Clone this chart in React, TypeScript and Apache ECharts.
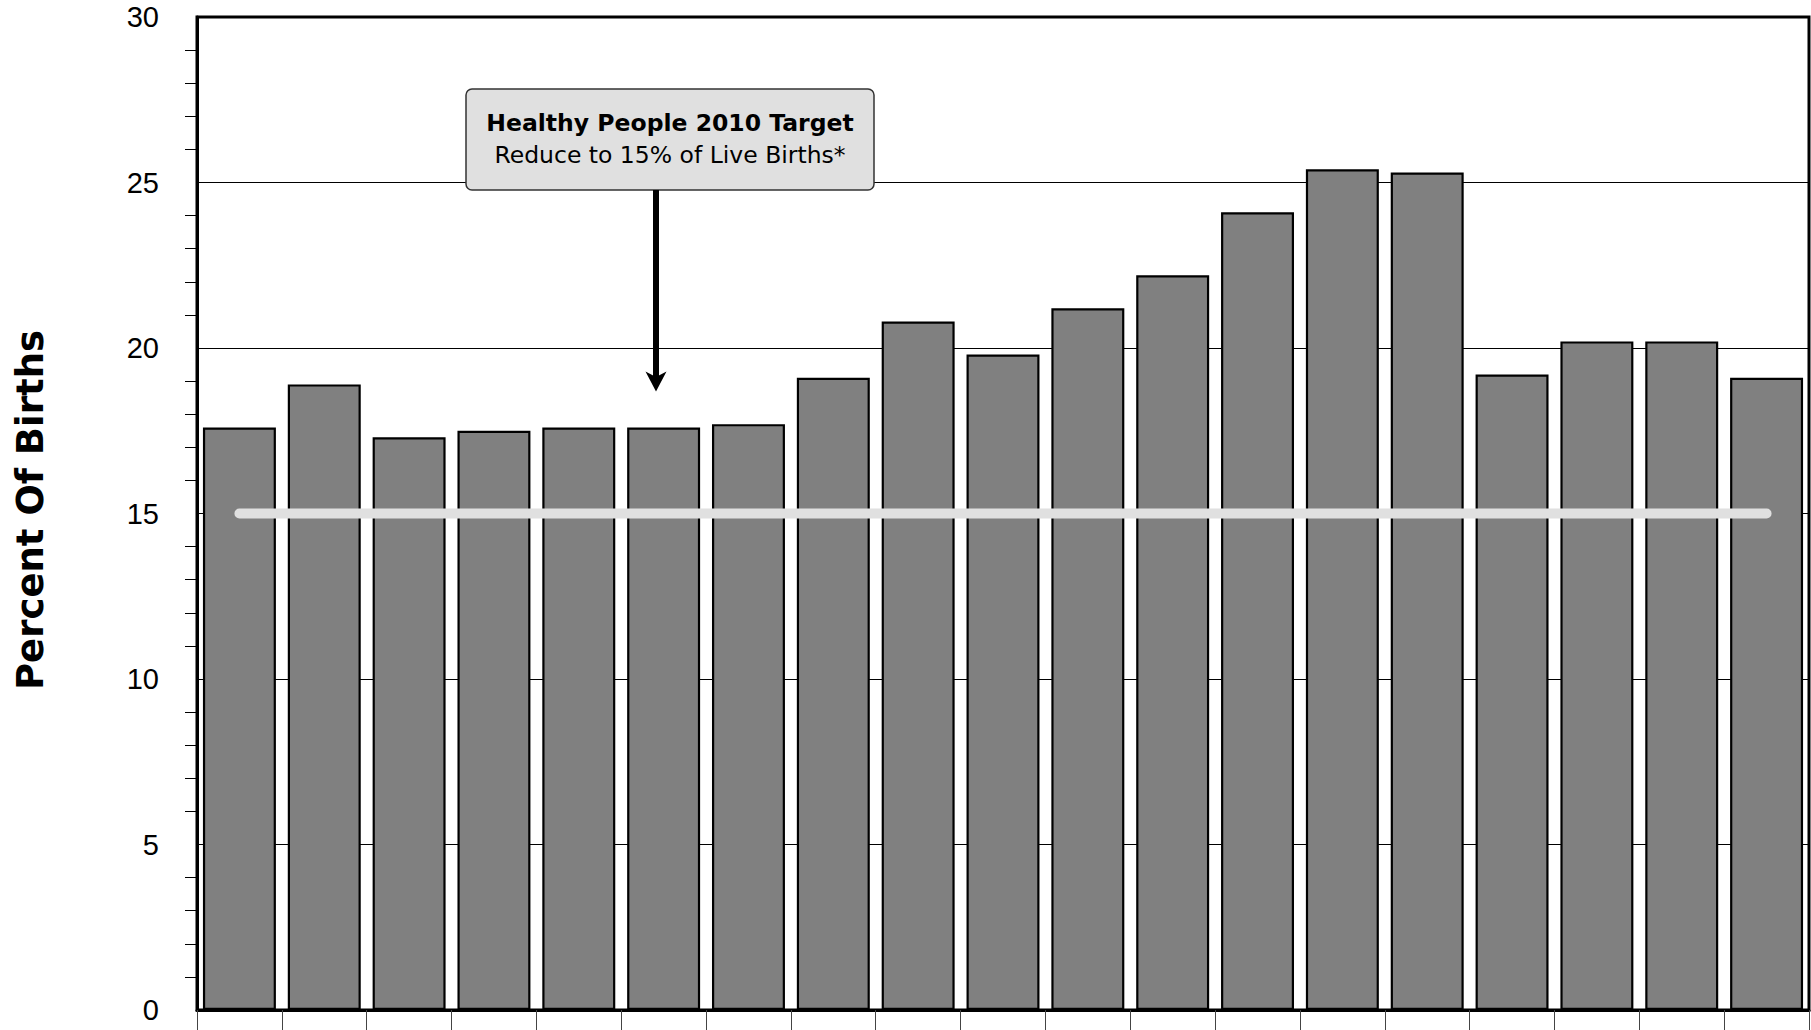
import React, { useEffect, useRef } from "react";
import * as echarts from "echarts";

// ---- data ----
const categories = ["1", "2", "3", "4", "5", "6", "7", "8", "9", "10", "11", "12", "13", "14", "15", "16", "17", "18", "19"];
const percentValues = [17.6, 18.9, 17.3, 17.5, 17.6, 17.6, 17.7, 19.1, 20.8, 19.8, 21.2, 22.2, 24.1, 25.4, 25.3, 19.2, 20.2, 20.2, 19.1];
const targetValues = [15, 15, 15, 15, 15, 15, 15, 15, 15, 15, 15, 15, 15, 15, 15, 15, 15, 15, 15];
const yMin = 0;
const yMax = 30;
const yInterval = 5;
const yAxisTitle = "Percent Of Births";
const noteTitle = "Healthy People 2010 Target";
const noteText = "Reduce to 15% of Live Births*";

export default function App() {
  const ref = useRef<HTMLDivElement>(null);

  useEffect(() => {
    if (!ref.current) return;
    const chart = echarts.init(ref.current, undefined, { renderer: "svg" });

    const boxX = 466;
    const boxY = 89;
    const boxW = 408;
    const boxH = 101;
    const arrowX = 656;

    chart.setOption({
      animation: false,
      backgroundColor: "#ffffff",
      grid: {
        left: 197,
        right: 2,
        top: 17,
        bottom: 20,
        containLabel: false,
        outerBoundsMode: "none",
        show: true,
        borderColor: "#000",
        borderWidth: 3,
        backgroundColor: "transparent",
      },
      xAxis: {
        type: "category",
        data: categories,
        axisLine: { show: true, lineStyle: { color: "#000", width: 3 } },
        axisTick: { show: true, interval: 0, length: 25, lineStyle: { color: "#444", width: 1 } },
        axisLabel: { show: false },
        splitLine: { show: false },
      },
      yAxis: {
        type: "value",
        min: yMin,
        max: yMax,
        interval: yInterval,
        axisLine: { show: true, lineStyle: { color: "#000", width: 3 } },
        axisTick: { show: false },
        minorTick: { show: true, splitNumber: 5, length: 12, lineStyle: { color: "#000", width: 1 } },
        axisLabel: {
          margin: 38,
          fontFamily: "Liberation Sans",
          fontSize: 29,
          color: "#000",
        },
        splitLine: { show: true, lineStyle: { color: "#000", width: 1 } },
      },
      series: [
        {
          type: "bar",
          data: percentValues,
          barCategoryGap: "14%",
          itemStyle: { color: "#808080", borderColor: "#000", borderWidth: 2.2 },
          z: 2,
        },
        {
          type: "line",
          data: targetValues,
          symbol: "none",
          lineStyle: { color: "#e0e0e0", width: 10, cap: "round" },
          z: 5,
        },
      ],
      graphic: [
        {
          type: "text",
          z: 100,
          x: 30,
          y: 510,
          rotation: Math.PI / 2,
          style: {
            text: yAxisTitle,
            fontFamily: "DejaVu Sans",
            fontWeight: "bold",
            fontSize: 37,
            fill: "#000",
            align: "center",
            verticalAlign: "middle",
          },
        },
        {
          type: "rect",
          z: 100,
          shape: { x: boxX, y: boxY, width: boxW, height: boxH, r: 6 },
          style: { fill: "#e0e0e0", stroke: "#333", lineWidth: 1.5 },
        },
        {
          type: "text",
          z: 101,
          x: boxX + boxW / 2,
          y: 122.6,
          style: {
            text: noteTitle,
            fontFamily: "DejaVu Sans",
            fontWeight: "bold",
            fontSize: 23.5,
            fill: "#000",
            align: "center",
            verticalAlign: "middle",
          },
        },
        {
          type: "text",
          z: 101,
          x: boxX + boxW / 2,
          y: 154.6,
          style: {
            text: noteText,
            fontFamily: "DejaVu Sans",
            fontSize: 23.5,
            fill: "#000",
            align: "center",
            verticalAlign: "middle",
          },
        },
        {
          type: "line",
          z: 100,
          shape: { x1: arrowX, y1: boxY + boxH, x2: arrowX, y2: 378 },
          style: { stroke: "#000", lineWidth: 6 },
        },
        {
          type: "polygon",
          z: 100,
          shape: {
            points: [
              [arrowX - 10.5, 371.5],
              [arrowX, 377],
              [arrowX + 10.5, 371.5],
              [arrowX, 391.5],
            ],
          },
          style: { fill: "#000" },
        },
      ],
    });

    return () => {
      chart.dispose();
    };
  }, []);

  return (
    <div
      ref={ref}
      style={{ position: "absolute", left: 0, top: 0, width: 1811, height: 1030, background: "#fff" }}
    />
  );
}
